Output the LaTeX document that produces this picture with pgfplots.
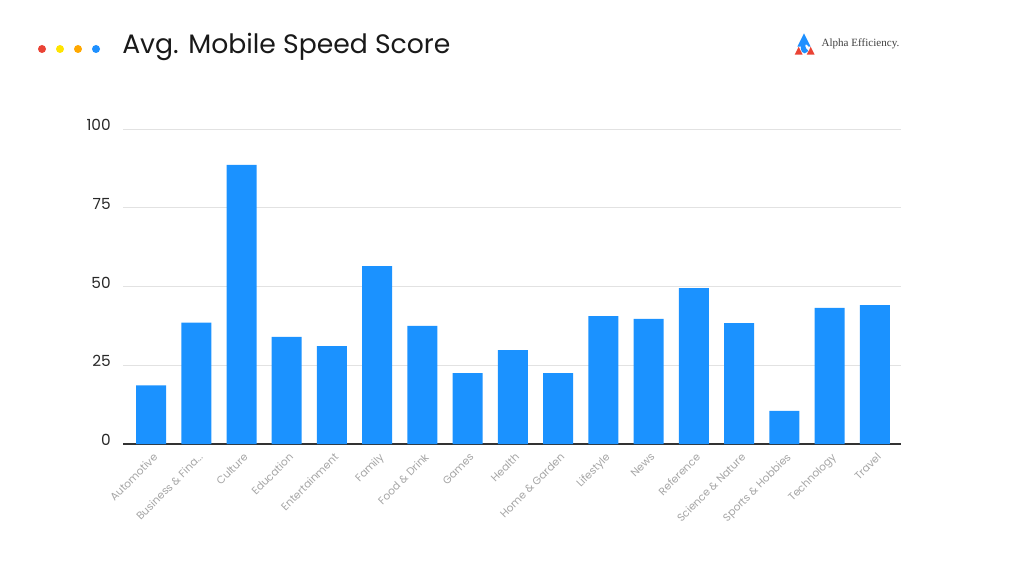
\documentclass[border=0pt]{standalone}
\usepackage{pgfplots}
\pgfplotsset{compat=1.18}
\usepackage{fontspec}
\setmainfont{Poppins}
\newfontfamily\logofont{Liberation Serif}
\definecolor{barblue}{RGB}{27,146,255}
\definecolor{dred}{RGB}{234,67,53}
\definecolor{dyellow}{RGB}{255,228,0}
\definecolor{dorange}{RGB}{255,168,0}
\definecolor{dblue}{RGB}{30,144,255}
\definecolor{gridgray}{RGB}{226,226,226}
\definecolor{xlab}{RGB}{165,165,165}
\definecolor{ylab}{RGB}{40,40,40}
\begin{document}
\begin{tikzpicture}
\path[use as bounding box] (0,0) rectangle (768pt,432pt);
% dots
\fill[dred] (31.5pt,395.25pt) circle (3pt);
\fill[dyellow] (45pt,395.25pt) circle (3pt);
\fill[dorange] (58.5pt,395.25pt) circle (3pt);
\fill[dblue] (72pt,395.25pt) circle (3pt);
% title
\node[anchor=west,inner sep=0pt,font=\fontsize{20}{24}\selectfont,text=black!90] at (91.5pt,396.5pt) {Avg. Mobile Speed Score};
% logo
\begin{scope}[shift={(604pt,399pt)}]
\fill[dblue] (-1pt,8pt) -- (-6pt,-2pt) -- (4pt,-2pt) -- cycle;
\fill[dred] (-8pt,-8pt) -- (-5pt,-2pt) -- (-2pt,-8pt) -- cycle;
\fill[dred] (1pt,-8pt) -- (4pt,-2pt) -- (7pt,-8pt) -- cycle;
\fill[dblue] (-0.5pt,-3pt) ellipse (3pt and 4pt);
\fill[white,rotate=30] (0pt,-3pt) ellipse (1pt and 2.5pt);
\end{scope}
\node[anchor=west,inner sep=0pt,font=\logofont\fontsize{8.3}{10}\selectfont,text=black!75] at (616pt,399pt) {Alpha Efficiency.};
\begin{axis}[
  at={(92.25pt,99pt)}, anchor=south west,
  scale only axis, width=583.5pt, height=236.25pt,
  xmin=-0.62, xmax=16.58, ymin=0, ymax=100,
  ybar, bar width=22.5pt, bar shift=0pt,
  axis y line*=left, axis x line*=bottom,
  y axis line style={draw=none},
  x axis line style={draw=black!80, line width=1pt},
  ytick={0,25,50,75,100},
  ymajorgrids, grid style={gridgray, line width=0.6pt},
  major tick length=0pt,
  xtick={0,...,16},
  xticklabels={{Automotive},{Business \& Fina{.}{.}{.}},{Culture},{Education},{Entertainment},{Family},{Food \& Drink},{Games},{Health},{Home \& Garden},{Lifestyle},{News},{Reference},{Science \& Nature},{Sports \& Hobbies},{Technology},{Travel}},
  x tick label style={rotate=45, anchor=north east, font=\fontsize{8}{9}\selectfont, text=xlab, inner sep=1pt, xshift=-2.5pt, yshift=-4pt},
  y tick label style={anchor=east, font=\fontsize{11.5}{13}\selectfont, text=ylab, inner sep=0pt, xshift=-9pt, yshift=3pt},
  /pgf/number format/assume math mode=true,
  clip=false,
]
\addplot[fill=barblue, draw=none] coordinates {
(0,18.6) (1,38.5) (2,88.6) (3,34.0) (4,31.1) (5,56.5) (6,37.5) (7,22.5) (8,29.8) (9,22.5) (10,40.6) (11,39.7) (12,49.5) (13,38.4) (14,10.5) (15,43.2) (16,44.1)};
\end{axis}
\end{tikzpicture}
\end{document}
